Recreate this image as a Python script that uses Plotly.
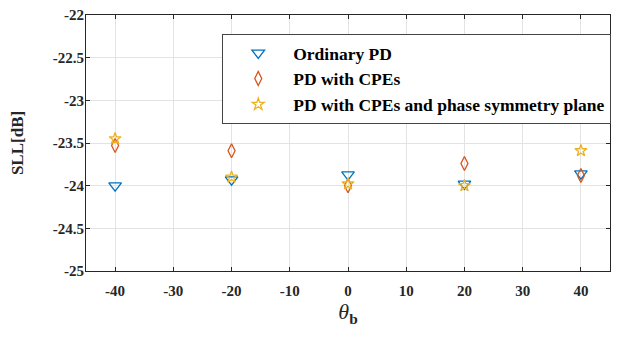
import plotly.graph_objects as go

theta = [-40, -20, 0, 20, 40]
ordinary_pd = [-24.00, -23.93, -23.87, -23.98, -23.86]
pd_cpes = [-23.53, -23.59, -24.00, -23.74, -23.88]
pd_cpes_sym = [-23.45, -23.90, -23.98, -24.00, -23.59]

x_ticks = [-40, -30, -20, -10, 0, 10, 20, 30, 40]
x_ticktext = ["-40", "-30", "-20", "-10", "0", "10", "20", "30", "40"]
y_ticks = [-25, -24.5, -24, -23.5, -23, -22.5, -22]
y_ticktext = ["-25", "-24.5", "-24", "-23.5", "-23", "-22.5", "-22"]

FONT = "Liberation Serif, Times New Roman, serif"

fig = go.Figure()
fig.add_trace(go.Scatter(x=theta, y=ordinary_pd, mode="markers", name="Ordinary PD",
                         marker=dict(symbol="triangle-down-open", size=11, color="#0072BD", line=dict(width=1.3))))
fig.add_trace(go.Scatter(x=theta, y=pd_cpes, mode="markers", name="PD with CPEs",
                         marker=dict(symbol="diamond-tall-open", size=10, color="#D95319", line=dict(width=1.3))))
fig.add_trace(go.Scatter(x=theta, y=pd_cpes_sym, mode="markers", name="PD with CPEs and phase symmetry plane",
                         marker=dict(symbol="star-open", size=9, color="#EDB120", line=dict(width=1.3))))

axis_common = dict(showline=True, linecolor="#262626", linewidth=1, mirror="ticks",
                   ticks="inside", ticklen=4, tickcolor="#262626",
                   showgrid=True, gridcolor="#E3E3E3", gridwidth=1, zeroline=False,
                   automargin=False, ticklabeloverflow="allow",
                   tickfont=dict(family=FONT, size=15, color="#262626"))

fig.update_xaxes(range=[-45, 45], tickvals=x_ticks, ticktext=["<b>" + t + "</b>" for t in x_ticktext],
                 ticklabelstandoff=6,
                 title=dict(text="<i>θ</i><sub><b>b</b></sub>", font=dict(family=FONT, size=22, color="#262626"), standoff=1),
                 **axis_common)
fig.update_yaxes(range=[-25, -22], tickvals=y_ticks, ticktext=["<b>" + t + "</b>" for t in y_ticktext],
                 ticklabelstandoff=-2,
                 title=dict(text="<b>SLL[dB]</b>", font=dict(family=FONT, size=17, color="#262626"), standoff=25),
                 **axis_common)

# page body keeps its default 8px margin, so the figure is sized to fit the 621x337 window
fig.update_layout(
    width=613, height=329,
    margin=dict(l=78, r=11, t=7, b=66),
    plot_bgcolor="white", paper_bgcolor="white",
    font=dict(family=FONT, size=15, color="#000000"),
    legend=dict(x=0.26, y=0.926, xanchor="left", yanchor="top",
                bgcolor="white", bordercolor="#444444", borderwidth=1,
                font=dict(family=FONT, size=17.5, color="#000000"),
                itemwidth=60, tracegroupgap=0, traceorder="normal"),
)
fig.for_each_trace(lambda t: t.update(name="<b>" + t.name + "</b>"))

fig.write_html("out.html", config={"displayModeBar": False})
